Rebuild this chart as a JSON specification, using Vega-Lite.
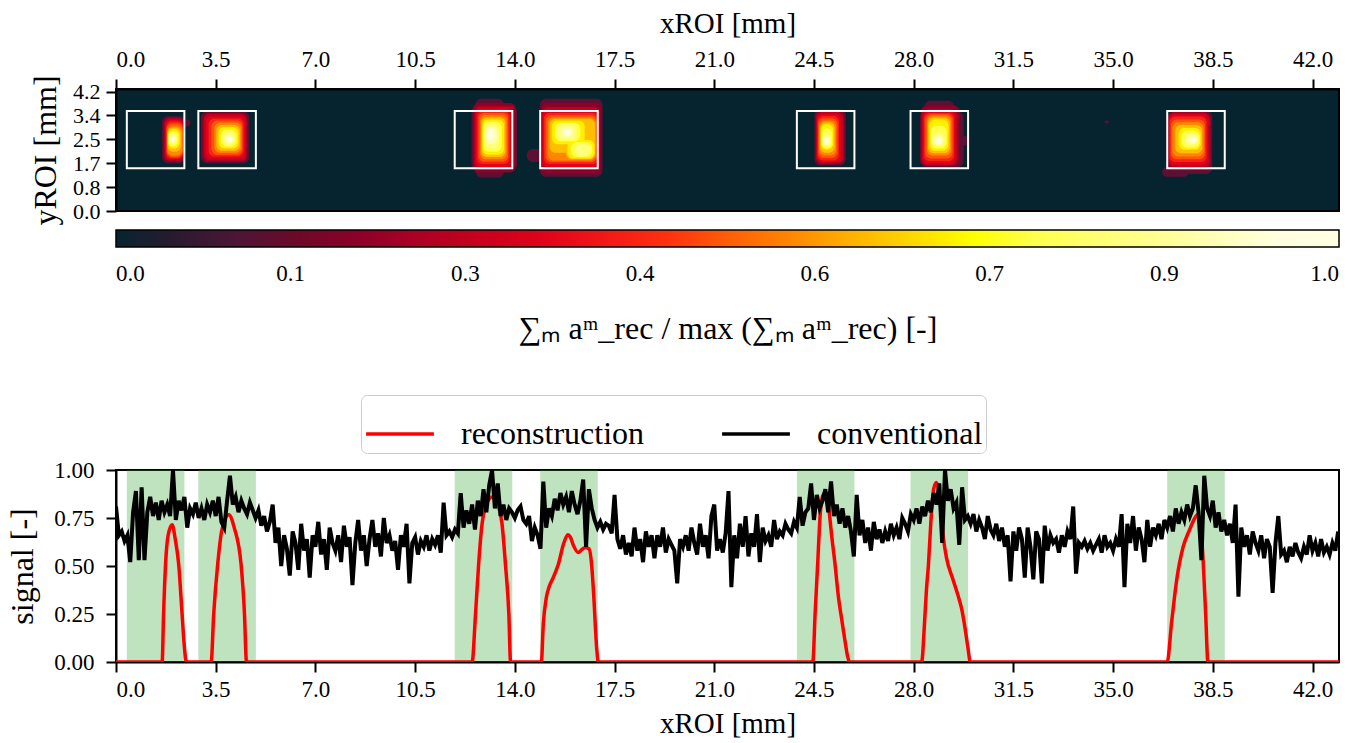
{
 "$schema": "https://vega.github.io/schema/vega-lite/v6.json",
 "padding": {"left": 5, "top": 8, "right": 10, "bottom": 4},
 "background": "white",
 "spacing": 47,
 "resolve": {"scale": {"color": "independent"}, "legend": {"color": "independent"}},
 "config": {
  "font": "Liberation Serif",
  "view": {"stroke": "black", "strokeWidth": 2},
  "axis": {"grid": false, "domainColor": "black", "domainWidth": 2, "tickColor": "black", "tickWidth": 2, "tickSize": 10, "labelFontSize": 23, "labelColor": "black", "labelFont": "Liberation Serif", "titleFont": "Liberation Serif", "titleFontSize": 29, "titleFontWeight": "normal", "titleColor": "black", "labelPadding": 6, "labelOverlap": false},
  "legend": {"labelFont": "Liberation Serif", "titleFont": "Liberation Serif", "labelColor": "black", "titleColor": "black", "labelLimit": 0, "titleLimit": 0}
 },
 "datasets": {
  "blobs": [
   {"x":1.62,"x2":2.42,"y":1.68,"y2":3.33,"v":0.12},{"x":2.3,"x2":2.62,"y":2.98,"y2":3.22,"v":0.12},
   {"x":2.98,"x2":4.68,"y":1.68,"y2":3.5,"v":0.12},
   {"x":12.62,"x2":13.62,"y":1.18,"y2":3.95,"v":0.12},{"x":12.48,"x2":14.08,"y":1.45,"y2":3.7,"v":0.12},
   {"x":14.88,"x2":17.08,"y":1.2,"y2":3.95,"v":0.12},{"x":14.42,"x2":14.95,"y":1.72,"y2":2.18,"v":0.12},
   {"x":24.52,"x2":25.62,"y":1.6,"y2":3.58,"v":0.12},
   {"x":28.38,"x2":29.42,"y":3.4,"y2":3.88,"v":0.12},{"x":28.22,"x2":29.75,"y":1.55,"y2":3.5,"v":0.12},{"x":29.6,"x2":29.92,"y":2.3,"y2":2.65,"v":0.12},
   {"x":36.72,"x2":37.65,"y":1.2,"y2":1.55,"v":0.12},{"x":36.92,"x2":38.48,"y":1.3,"y2":3.52,"v":0.12},
   {"x":34.7,"x2":34.86,"y":3.09,"y2":3.17,"v":0.12},
   {"x":1.66,"x2":2.4,"y":1.72,"y2":3.3,"v":0.2},
   {"x":3.03,"x2":4.63,"y":1.72,"y2":3.46,"v":0.2},
   {"x":12.53,"x2":14.03,"y":1.35,"y2":3.8,"v":0.2},
   {"x":14.92,"x2":17.03,"y":1.3,"y2":3.8,"v":0.2},
   {"x":24.55,"x2":25.57,"y":1.64,"y2":3.53,"v":0.2},
   {"x":28.25,"x2":29.62,"y":1.58,"y2":3.7,"v":0.2},
   {"x":36.93,"x2":38.43,"y":1.42,"y2":3.49,"v":0.2},
   {"x":1.7,"x2":2.38,"y":1.78,"y2":3.26,"v":0.28},
   {"x":3.08,"x2":4.58,"y":1.78,"y2":3.42,"v":0.28},
   {"x":12.58,"x2":13.98,"y":1.45,"y2":3.68,"v":0.28},
   {"x":14.95,"x2":16.98,"y":1.45,"y2":3.65,"v":0.28},
   {"x":24.58,"x2":25.52,"y":1.68,"y2":3.48,"v":0.28},
   {"x":28.28,"x2":29.52,"y":1.62,"y2":3.58,"v":0.28},
   {"x":36.95,"x2":38.38,"y":1.55,"y2":3.46,"v":0.28},
   {"x":1.73,"x2":2.37,"y":1.82,"y2":3.2,"v":0.35},
   {"x":3.16,"x2":4.53,"y":1.85,"y2":3.33,"v":0.35},
   {"x":12.63,"x2":13.9,"y":1.55,"y2":3.6,"v":0.35},
   {"x":14.98,"x2":16.95,"y":1.55,"y2":3.55,"v":0.35},
   {"x":24.6,"x2":25.45,"y":1.73,"y2":3.41,"v":0.35},
   {"x":28.32,"x2":29.47,"y":1.68,"y2":3.51,"v":0.35},
   {"x":36.96,"x2":38.33,"y":1.63,"y2":3.39,"v":0.35},
   {"x":1.76,"x2":2.36,"y":1.85,"y2":3.15,"v":0.42},
   {"x":3.25,"x2":4.48,"y":1.92,"y2":3.25,"v":0.42},
   {"x":12.68,"x2":13.82,"y":1.65,"y2":3.52,"v":0.42},
   {"x":15.02,"x2":16.92,"y":1.65,"y2":3.45,"v":0.42},
   {"x":24.63,"x2":25.38,"y":1.78,"y2":3.34,"v":0.42},
   {"x":28.36,"x2":29.42,"y":1.75,"y2":3.45,"v":0.42},
   {"x":36.98,"x2":38.28,"y":1.72,"y2":3.32,"v":0.42},
   {"x":1.78,"x2":2.35,"y":1.9,"y2":3.08,"v":0.49},
   {"x":3.35,"x2":4.44,"y":1.98,"y2":3.18,"v":0.49},
   {"x":12.73,"x2":13.77,"y":1.73,"y2":3.45,"v":0.49},
   {"x":15.08,"x2":16.88,"y":1.72,"y2":3.37,"v":0.49},
   {"x":24.65,"x2":25.33,"y":1.86,"y2":3.26,"v":0.49},
   {"x":28.41,"x2":29.37,"y":1.85,"y2":3.4,"v":0.49},
   {"x":37.03,"x2":38.23,"y":1.82,"y2":3.22,"v":0.49},
   {"x":1.79,"x2":2.33,"y":1.95,"y2":3.0,"v":0.55},
   {"x":3.45,"x2":4.4,"y":2.05,"y2":3.1,"v":0.55},
   {"x":12.78,"x2":13.72,"y":1.82,"y2":3.38,"v":0.55},
   {"x":15.15,"x2":16.85,"y":1.78,"y2":3.3,"v":0.55},
   {"x":24.68,"x2":25.28,"y":1.95,"y2":3.18,"v":0.55},
   {"x":28.46,"x2":29.32,"y":1.95,"y2":3.36,"v":0.55},
   {"x":37.08,"x2":38.18,"y":1.92,"y2":3.12,"v":0.55},
   {"x":1.8,"x2":2.29,"y":2.08,"y2":2.94,"v":0.62},
   {"x":3.52,"x2":4.35,"y":2.12,"y2":3.02,"v":0.62},
   {"x":12.82,"x2":13.67,"y":1.9,"y2":3.3,"v":0.62},
   {"x":15.22,"x2":16.82,"y":2.05,"y2":3.24,"v":0.62},{"x":15.8,"x2":16.82,"y":1.82,"y2":2.6,"v":0.62},
   {"x":24.71,"x2":25.23,"y":2.05,"y2":3.12,"v":0.62},
   {"x":28.5,"x2":29.27,"y":2.03,"y2":3.29,"v":0.62},
   {"x":37.18,"x2":38.13,"y":2.03,"y2":3.02,"v":0.62},
   {"x":1.82,"x2":2.24,"y":2.2,"y2":2.88,"v":0.68},
   {"x":3.6,"x2":4.3,"y":2.2,"y2":2.95,"v":0.68},
   {"x":12.86,"x2":13.62,"y":1.98,"y2":3.22,"v":0.68},
   {"x":15.3,"x2":16.45,"y":2.35,"y2":3.18,"v":0.68},{"x":15.85,"x2":16.8,"y":1.85,"y2":2.5,"v":0.68},
   {"x":24.74,"x2":25.18,"y":2.15,"y2":3.06,"v":0.68},
   {"x":28.55,"x2":29.22,"y":2.12,"y2":3.22,"v":0.68},
   {"x":37.3,"x2":38.08,"y":2.15,"y2":2.92,"v":0.68},
   {"x":1.84,"x2":2.19,"y":2.28,"y2":2.8,"v":0.75},
   {"x":3.68,"x2":4.24,"y":2.26,"y2":2.86,"v":0.75},
   {"x":12.9,"x2":13.54,"y":2.08,"y2":3.14,"v":0.75},
   {"x":15.42,"x2":16.3,"y":2.44,"y2":3.1,"v":0.75},{"x":15.98,"x2":16.72,"y":1.9,"y2":2.42,"v":0.75},
   {"x":24.77,"x2":25.14,"y":2.2,"y2":2.9,"v":0.75},
   {"x":28.6,"x2":29.16,"y":2.2,"y2":3.0,"v":0.75},
   {"x":37.4,"x2":38.04,"y":2.22,"y2":2.82,"v":0.75},
   {"x":1.86,"x2":2.14,"y":2.35,"y2":2.72,"v":0.82},
   {"x":3.75,"x2":4.18,"y":2.32,"y2":2.78,"v":0.82},
   {"x":12.95,"x2":13.45,"y":2.2,"y2":3.05,"v":0.82},
   {"x":15.5,"x2":16.15,"y":2.5,"y2":3.05,"v":0.82},{"x":16.1,"x2":16.65,"y":1.95,"y2":2.35,"v":0.82},
   {"x":24.8,"x2":25.1,"y":2.28,"y2":2.72,"v":0.82},
   {"x":28.65,"x2":29.1,"y":2.28,"y2":2.75,"v":0.82},
   {"x":37.5,"x2":38.0,"y":2.3,"y2":2.72,"v":0.82},
   {"x":1.89,"x2":2.1,"y":2.4,"y2":2.66,"v":0.89},
   {"x":3.82,"x2":4.13,"y":2.37,"y2":2.7,"v":0.89},
   {"x":12.99,"x2":13.37,"y":2.35,"y2":2.97,"v":0.89},
   {"x":15.62,"x2":16.05,"y":2.58,"y2":2.95,"v":0.89},
   {"x":24.83,"x2":25.06,"y":2.33,"y2":2.62,"v":0.89},
   {"x":28.7,"x2":29.04,"y":2.33,"y2":2.65,"v":0.89},
   {"x":37.6,"x2":37.96,"y":2.36,"y2":2.65,"v":0.89},
   {"x":1.92,"x2":2.06,"y":2.45,"y2":2.6,"v":0.95},
   {"x":3.88,"x2":4.08,"y":2.42,"y2":2.62,"v":0.95},
   {"x":13.02,"x2":13.28,"y":2.5,"y2":2.9,"v":0.95},
   {"x":15.72,"x2":15.98,"y":2.65,"y2":2.88,"v":0.95},
   {"x":24.86,"x2":25.02,"y":2.38,"y2":2.52,"v":0.95},
   {"x":28.75,"x2":28.98,"y":2.38,"y2":2.55,"v":0.95},
   {"x":37.7,"x2":37.92,"y":2.42,"y2":2.58,"v":0.95}
  ],
  "boxes": [
   {"x0":0.38,"x1":2.40,"y0":1.5,"y1":3.52},
   {"x0":2.89,"x1":4.91,"y0":1.5,"y1":3.52},
   {"x0":11.89,"x1":13.91,"y0":1.5,"y1":3.52},
   {"x0":14.89,"x1":16.91,"y0":1.5,"y1":3.52},
   {"x0":23.9,"x1":25.92,"y0":1.5,"y1":3.52},
   {"x0":27.89,"x1":29.91,"y0":1.5,"y1":3.52},
   {"x0":36.9,"x1":38.92,"y0":1.5,"y1":3.52}
  ],
  "rec": [
   {"x":0,"s":0},{"x":1.62,"s":0},{"x":1.67,"s":0.25},{"x":1.74,"s":0.51},{"x":1.83,"s":0.66},{"x":1.97,"s":0.715},{"x":2.08,"s":0.64},{"x":2.2,"s":0.51},{"x":2.32,"s":0.25},{"x":2.4,"s":0.08},{"x":2.47,"s":0},
   {"x":3.34,"s":0},{"x":3.43,"s":0.25},{"x":3.57,"s":0.51},{"x":3.72,"s":0.69},{"x":3.96,"s":0.767},{"x":4.15,"s":0.7},{"x":4.39,"s":0.51},{"x":4.51,"s":0.25},{"x":4.58,"s":0},
   {"x":12.5,"s":0},{"x":12.62,"s":0.25},{"x":12.73,"s":0.51},{"x":12.85,"s":0.72},{"x":13.0,"s":0.82},{"x":13.2,"s":0.86},{"x":13.4,"s":0.82},{"x":13.55,"s":0.72},{"x":13.67,"s":0.51},{"x":13.79,"s":0.25},{"x":13.85,"s":0},
   {"x":14.93,"s":0},{"x":15.0,"s":0.2},{"x":15.1,"s":0.33},{"x":15.2,"s":0.39},{"x":15.35,"s":0.44},{"x":15.53,"s":0.51},{"x":15.71,"s":0.615},{"x":15.86,"s":0.663},{"x":15.95,"s":0.65},{"x":16.06,"s":0.606},{"x":16.23,"s":0.57},{"x":16.35,"s":0.585},{"x":16.47,"s":0.597},{"x":16.6,"s":0.59},{"x":16.7,"s":0.5},{"x":16.76,"s":0.37},{"x":16.88,"s":0.06},{"x":16.93,"s":0},
   {"x":24.46,"s":0},{"x":24.54,"s":0.25},{"x":24.63,"s":0.51},{"x":24.72,"s":0.77},{"x":24.82,"s":0.87},{"x":24.92,"s":0.88},{"x":25.02,"s":0.8},{"x":25.12,"s":0.66},{"x":25.24,"s":0.51},{"x":25.35,"s":0.35},{"x":25.48,"s":0.216},{"x":25.6,"s":0.1},{"x":25.68,"s":0.03},{"x":25.75,"s":0},
   {"x":28.28,"s":0},{"x":28.38,"s":0.2},{"x":28.45,"s":0.38},{"x":28.52,"s":0.51},{"x":28.6,"s":0.72},{"x":28.7,"s":0.9},{"x":28.8,"s":0.935},{"x":28.88,"s":0.89},{"x":28.97,"s":0.77},{"x":29.05,"s":0.64},{"x":29.15,"s":0.545},{"x":29.38,"s":0.43},{"x":29.55,"s":0.35},{"x":29.68,"s":0.28},{"x":29.8,"s":0.18},{"x":29.9,"s":0.08},{"x":29.99,"s":0},
   {"x":36.9,"s":0},{"x":37.05,"s":0.2},{"x":37.23,"s":0.425},{"x":37.46,"s":0.6},{"x":37.69,"s":0.69},{"x":37.87,"s":0.75},{"x":37.98,"s":0.77},{"x":38.08,"s":0.7},{"x":38.16,"s":0.53},{"x":38.25,"s":0.25},{"x":38.33,"s":0},
   {"x":42.93,"s":0}
  ],
  "conv": [
   {"x":0,"s":0.81},{"x":0.1,"s":0.66},{"x":0.2,"s":0.68},{"x":0.3,"s":0.63},{"x":0.4,"s":0.66},{"x":0.5,"s":0.52},{"x":0.6,"s":0.78},{"x":0.7,"s":0.89},{"x":0.8,"s":0.53},{"x":0.9,"s":0.91},
   {"x":1,"s":0.53},{"x":1.1,"s":0.78},{"x":1.2,"s":0.86},{"x":1.3,"s":0.76},{"x":1.4,"s":0.83},{"x":1.5,"s":0.74},{"x":1.6,"s":0.84},{"x":1.7,"s":0.78},{"x":1.8,"s":0.82},{"x":1.9,"s":0.76},
   {"x":2,"s":1.0},{"x":2.1,"s":0.74},{"x":2.2,"s":0.84},{"x":2.3,"s":0.79},{"x":2.4,"s":0.86},{"x":2.5,"s":0.70},{"x":2.6,"s":0.80},{"x":2.7,"s":0.77},{"x":2.8,"s":0.83},{"x":2.9,"s":0.75},
   {"x":3,"s":0.80},{"x":3.1,"s":0.74},{"x":3.2,"s":0.82},{"x":3.3,"s":0.78},{"x":3.4,"s":0.84},{"x":3.5,"s":0.76},{"x":3.6,"s":0.86},{"x":3.7,"s":0.73},{"x":3.8,"s":0.70},{"x":3.9,"s":0.84},
   {"x":4,"s":0.97},{"x":4.1,"s":0.82},{"x":4.2,"s":0.86},{"x":4.3,"s":0.78},{"x":4.4,"s":0.84},{"x":4.5,"s":0.80},{"x":4.6,"s":0.77},{"x":4.7,"s":0.83},{"x":4.8,"s":0.79},{"x":4.9,"s":0.75},
   {"x":5,"s":0.79},{"x":5.1,"s":0.71},{"x":5.2,"s":0.76},{"x":5.3,"s":0.68},{"x":5.4,"s":0.73},{"x":5.5,"s":0.82},{"x":5.6,"s":0.62},{"x":5.7,"s":0.70},{"x":5.8,"s":0.50},{"x":5.9,"s":0.66},
   {"x":6,"s":0.59},{"x":6.1,"s":0.45},{"x":6.2,"s":0.68},{"x":6.3,"s":0.62},{"x":6.4,"s":0.48},{"x":6.5,"s":0.72},{"x":6.6,"s":0.58},{"x":6.7,"s":0.64},{"x":6.8,"s":0.44},{"x":6.9,"s":0.66},
   {"x":7,"s":0.60},{"x":7.1,"s":0.73},{"x":7.2,"s":0.56},{"x":7.3,"s":0.64},{"x":7.4,"s":0.48},{"x":7.5,"s":0.70},{"x":7.6,"s":0.62},{"x":7.7,"s":0.58},{"x":7.8,"s":0.66},{"x":7.9,"s":0.52},
   {"x":8,"s":0.71},{"x":8.1,"s":0.60},{"x":8.2,"s":0.65},{"x":8.3,"s":0.40},{"x":8.4,"s":0.62},{"x":8.5,"s":0.74},{"x":8.6,"s":0.58},{"x":8.7,"s":0.66},{"x":8.8,"s":0.50},{"x":8.9,"s":0.64},
   {"x":9,"s":0.74},{"x":9.1,"s":0.60},{"x":9.2,"s":0.67},{"x":9.3,"s":0.55},{"x":9.4,"s":0.75},{"x":9.5,"s":0.62},{"x":9.6,"s":0.66},{"x":9.7,"s":0.58},{"x":9.8,"s":0.63},{"x":9.9,"s":0.48},
   {"x":10,"s":0.66},{"x":10.1,"s":0.60},{"x":10.2,"s":0.72},{"x":10.3,"s":0.41},{"x":10.4,"s":0.62},{"x":10.5,"s":0.65},{"x":10.6,"s":0.56},{"x":10.7,"s":0.63},{"x":10.8,"s":0.60},{"x":10.9,"s":0.66},
   {"x":11,"s":0.58},{"x":11.1,"s":0.64},{"x":11.2,"s":0.61},{"x":11.3,"s":0.66},{"x":11.4,"s":0.57},{"x":11.5,"s":0.83},{"x":11.6,"s":0.66},{"x":11.7,"s":0.68},{"x":11.8,"s":0.65},{"x":11.9,"s":0.69},
   {"x":12,"s":0.67},{"x":12.1,"s":0.88},{"x":12.2,"s":0.70},{"x":12.3,"s":0.79},{"x":12.4,"s":0.72},{"x":12.5,"s":0.82},{"x":12.6,"s":0.69},{"x":12.7,"s":0.84},{"x":12.8,"s":0.76},{"x":12.9,"s":0.90},
   {"x":13,"s":0.78},{"x":13.1,"s":0.92},{"x":13.2,"s":1.0},{"x":13.3,"s":0.80},{"x":13.4,"s":0.93},{"x":13.5,"s":0.76},{"x":13.6,"s":0.82},{"x":13.7,"s":0.74},{"x":13.8,"s":0.80},{"x":13.9,"s":0.78},
   {"x":14,"s":0.75},{"x":14.1,"s":0.79},{"x":14.2,"s":0.81},{"x":14.3,"s":0.74},{"x":14.4,"s":0.72},{"x":14.5,"s":0.76},{"x":14.6,"s":0.63},{"x":14.7,"s":0.70},{"x":14.8,"s":0.66},{"x":14.9,"s":0.59},
   {"x":15,"s":0.94},{"x":15.1,"s":0.70},{"x":15.2,"s":0.80},{"x":15.3,"s":0.76},{"x":15.4,"s":0.85},{"x":15.5,"s":0.79},{"x":15.6,"s":0.88},{"x":15.7,"s":0.82},{"x":15.8,"s":0.86},{"x":15.9,"s":0.78},
   {"x":16,"s":0.89},{"x":16.1,"s":0.82},{"x":16.2,"s":0.77},{"x":16.3,"s":0.84},{"x":16.4,"s":0.95},{"x":16.5,"s":0.60},{"x":16.6,"s":0.90},{"x":16.7,"s":0.80},{"x":16.8,"s":0.74},{"x":16.9,"s":0.70},
   {"x":17,"s":0.73},{"x":17.1,"s":0.69},{"x":17.2,"s":0.72},{"x":17.3,"s":0.71},{"x":17.4,"s":0.67},{"x":17.5,"s":0.87},{"x":17.6,"s":0.64},{"x":17.7,"s":0.59},{"x":17.8,"s":0.66},{"x":17.9,"s":0.56},
   {"x":18,"s":0.62},{"x":18.1,"s":0.55},{"x":18.2,"s":0.70},{"x":18.3,"s":0.58},{"x":18.4,"s":0.64},{"x":18.5,"s":0.52},{"x":18.6,"s":0.68},{"x":18.7,"s":0.60},{"x":18.8,"s":0.66},{"x":18.9,"s":0.54},
   {"x":19,"s":0.66},{"x":19.1,"s":0.60},{"x":19.2,"s":0.70},{"x":19.3,"s":0.57},{"x":19.4,"s":0.64},{"x":19.5,"s":0.61},{"x":19.6,"s":0.58},{"x":19.7,"s":0.41},{"x":19.8,"s":0.64},{"x":19.9,"s":0.60},
   {"x":20,"s":0.66},{"x":20.1,"s":0.58},{"x":20.2,"s":0.70},{"x":20.3,"s":0.62},{"x":20.4,"s":0.56},{"x":20.5,"s":0.72},{"x":20.6,"s":0.60},{"x":20.7,"s":0.66},{"x":20.8,"s":0.54},{"x":20.9,"s":0.76},
   {"x":21,"s":0.82},{"x":21.1,"s":0.58},{"x":21.2,"s":0.64},{"x":21.3,"s":0.57},{"x":21.4,"s":0.67},{"x":21.5,"s":0.89},{"x":21.6,"s":0.39},{"x":21.7,"s":0.66},{"x":21.8,"s":0.54},{"x":21.9,"s":0.72},
   {"x":22,"s":0.60},{"x":22.1,"s":0.76},{"x":22.2,"s":0.55},{"x":22.3,"s":0.67},{"x":22.4,"s":0.60},{"x":22.5,"s":0.77},{"x":22.6,"s":0.52},{"x":22.7,"s":0.70},{"x":22.8,"s":0.63},{"x":22.9,"s":0.66},
   {"x":23,"s":0.60},{"x":23.1,"s":0.74},{"x":23.2,"s":0.64},{"x":23.3,"s":0.68},{"x":23.4,"s":0.66},{"x":23.5,"s":0.72},{"x":23.6,"s":0.69},{"x":23.7,"s":0.67},{"x":23.8,"s":0.73},{"x":23.9,"s":0.70},
   {"x":24,"s":0.86},{"x":24.1,"s":0.71},{"x":24.2,"s":0.78},{"x":24.3,"s":0.80},{"x":24.4,"s":0.93},{"x":24.5,"s":0.74},{"x":24.6,"s":0.87},{"x":24.7,"s":0.80},{"x":24.8,"s":0.84},{"x":24.9,"s":0.90},
   {"x":25,"s":0.78},{"x":25.1,"s":0.94},{"x":25.2,"s":0.76},{"x":25.3,"s":0.82},{"x":25.4,"s":0.72},{"x":25.5,"s":0.80},{"x":25.6,"s":0.70},{"x":25.7,"s":0.76},{"x":25.8,"s":0.68},{"x":25.9,"s":0.55},
   {"x":26,"s":0.87},{"x":26.1,"s":0.66},{"x":26.2,"s":0.74},{"x":26.3,"s":0.62},{"x":26.4,"s":0.70},{"x":26.5,"s":0.58},{"x":26.6,"s":0.73},{"x":26.7,"s":0.64},{"x":26.8,"s":0.69},{"x":26.9,"s":0.62},
   {"x":27,"s":0.68},{"x":27.1,"s":0.63},{"x":27.2,"s":0.72},{"x":27.3,"s":0.66},{"x":27.4,"s":0.70},{"x":27.5,"s":0.64},{"x":27.6,"s":0.75},{"x":27.7,"s":0.72},{"x":27.8,"s":0.68},{"x":27.9,"s":0.77},
   {"x":28,"s":0.74},{"x":28.1,"s":0.80},{"x":28.2,"s":0.72},{"x":28.3,"s":0.81},{"x":28.4,"s":0.76},{"x":28.5,"s":0.84},{"x":28.6,"s":0.78},{"x":28.7,"s":0.88},{"x":28.8,"s":0.82},{"x":28.9,"s":0.93},
   {"x":29,"s":0.62},{"x":29.1,"s":1.0},{"x":29.2,"s":0.84},{"x":29.3,"s":0.90},{"x":29.4,"s":0.80},{"x":29.5,"s":0.83},{"x":29.6,"s":0.61},{"x":29.7,"s":0.91},{"x":29.8,"s":0.74},{"x":29.9,"s":0.76},
   {"x":30,"s":0.72},{"x":30.1,"s":0.77},{"x":30.2,"s":0.68},{"x":30.3,"s":0.74},{"x":30.4,"s":0.70},{"x":30.5,"s":0.64},{"x":30.6,"s":0.76},{"x":30.7,"s":0.69},{"x":30.8,"s":0.66},{"x":30.9,"s":0.72},
   {"x":31,"s":0.63},{"x":31.1,"s":0.70},{"x":31.2,"s":0.60},{"x":31.3,"s":0.66},{"x":31.4,"s":0.42},{"x":31.5,"s":0.68},{"x":31.6,"s":0.58},{"x":31.7,"s":0.70},{"x":31.8,"s":0.64},{"x":31.9,"s":0.44},
   {"x":32,"s":0.70},{"x":32.1,"s":0.60},{"x":32.2,"s":0.43},{"x":32.3,"s":0.68},{"x":32.4,"s":0.64},{"x":32.5,"s":0.41},{"x":32.6,"s":0.71},{"x":32.7,"s":0.58},{"x":32.8,"s":0.66},{"x":32.9,"s":0.62},
   {"x":33,"s":0.64},{"x":33.1,"s":0.57},{"x":33.2,"s":0.66},{"x":33.3,"s":0.60},{"x":33.4,"s":0.68},{"x":33.5,"s":0.64},{"x":33.6,"s":0.81},{"x":33.7,"s":0.46},{"x":33.8,"s":0.62},{"x":33.9,"s":0.60},
   {"x":34,"s":0.63},{"x":34.1,"s":0.59},{"x":34.2,"s":0.62},{"x":34.3,"s":0.58},{"x":34.4,"s":0.61},{"x":34.5,"s":0.64},{"x":34.6,"s":0.57},{"x":34.7,"s":0.66},{"x":34.8,"s":0.60},{"x":34.9,"s":0.62},
   {"x":35,"s":0.58},{"x":35.1,"s":0.64},{"x":35.2,"s":0.60},{"x":35.3,"s":0.77},{"x":35.4,"s":0.39},{"x":35.5,"s":0.72},{"x":35.6,"s":0.62},{"x":35.7,"s":0.76},{"x":35.8,"s":0.58},{"x":35.9,"s":0.70},
   {"x":36,"s":0.64},{"x":36.1,"s":0.52},{"x":36.2,"s":0.74},{"x":36.3,"s":0.60},{"x":36.4,"s":0.70},{"x":36.5,"s":0.66},{"x":36.6,"s":0.72},{"x":36.7,"s":0.64},{"x":36.8,"s":0.74},{"x":36.9,"s":0.70},
   {"x":37,"s":0.76},{"x":37.1,"s":0.68},{"x":37.2,"s":0.80},{"x":37.3,"s":0.72},{"x":37.4,"s":0.78},{"x":37.5,"s":0.74},{"x":37.6,"s":0.82},{"x":37.7,"s":0.76},{"x":37.8,"s":0.80},{"x":37.9,"s":0.92},
   {"x":38,"s":0.78},{"x":38.1,"s":0.53},{"x":38.2,"s":0.97},{"x":38.3,"s":0.80},{"x":38.4,"s":0.76},{"x":38.5,"s":0.84},{"x":38.6,"s":0.70},{"x":38.7,"s":0.78},{"x":38.8,"s":0.68},{"x":38.9,"s":0.74},
   {"x":39,"s":0.66},{"x":39.1,"s":0.72},{"x":39.2,"s":0.62},{"x":39.3,"s":0.82},{"x":39.4,"s":0.34},{"x":39.5,"s":0.70},{"x":39.6,"s":0.60},{"x":39.7,"s":0.66},{"x":39.8,"s":0.56},{"x":39.9,"s":0.68},
   {"x":40,"s":0.62},{"x":40.1,"s":0.58},{"x":40.2,"s":0.66},{"x":40.3,"s":0.54},{"x":40.4,"s":0.64},{"x":40.5,"s":0.60},{"x":40.6,"s":0.36},{"x":40.7,"s":0.62},{"x":40.8,"s":0.76},{"x":40.9,"s":0.56},
   {"x":41,"s":0.58},{"x":41.1,"s":0.52},{"x":41.2,"s":0.60},{"x":41.3,"s":0.55},{"x":41.4,"s":0.62},{"x":41.5,"s":0.57},{"x":41.6,"s":0.54},{"x":41.7,"s":0.60},{"x":41.8,"s":0.56},{"x":41.9,"s":0.66},
   {"x":42,"s":0.58},{"x":42.1,"s":0.62},{"x":42.2,"s":0.55},{"x":42.3,"s":0.64},{"x":42.4,"s":0.57},{"x":42.5,"s":0.60},{"x":42.6,"s":0.56},{"x":42.7,"s":0.62},{"x":42.8,"s":0.58},{"x":42.9,"s":0.68}
  ]
 },
 "vconcat": [
  {
   "width": 1223,
   "height": 122,
   "view": {"fill": "#062430", "stroke": "black", "strokeWidth": 2},
   "layer": [
    {
     "data": {"name": "blobs"},
     "mark": {"type": "rect", "cornerRadius": 6},
     "encoding": {
      "x": {"field": "x", "type": "quantitative", "scale": {"domain": [0, 42.93], "nice": false, "zero": false},
            "axis": {"orient": "top", "values": [0, 3.5, 7, 10.5, 14, 17.5, 21, 24.5, 28, 31.5, 35, 38.5, 42], "format": ".1f", "title": "xROI [mm]", "titlePadding": 10, "labelPadding": 8, "labelOverlap": false}},
      "x2": {"field": "x2"},
      "y": {"field": "y", "type": "quantitative", "scale": {"domain": [0, 4.29], "nice": false, "zero": false},
            "axis": {"values": [0, 0.84, 1.68, 2.52, 3.36, 4.2], "format": ".1f", "title": "yROI [mm]", "titleFontSize": 32, "titlePadding": 10, "labelOverlap": false, "labelFontSize": 22, "labelBaseline": "middle"}},
      "y2": {"field": "y2"},
      "color": {"field": "v", "type": "quantitative",
        "scale": {"domain": [0, 0.05, 0.15, 0.28, 0.38, 0.45, 0.52, 0.6, 0.7, 0.85, 0.95, 1.0],
                  "range": ["#062430", "#2b1a30", "#6e0828", "#c0001e", "#ee0818", "#ff3010", "#ff6a08", "#ffb000", "#ffff00", "#ffff90", "#ffffe0", "#ffffff"]},
        "legend": {"orient": "bottom", "direction": "horizontal", "gradientLength": 1223, "gradientThickness": 17,
                   "gradientStrokeColor": "black", "gradientStrokeWidth": 1.5,
                   "values": [0, 0.142857, 0.285714, 0.428571, 0.571429, 0.714286, 0.857143, 1], "format": ".1f",
                   "labelFontSize": 23, "labelAlign": "center", "labelOffset": 16, "labelOverlap": false,
                   "title": "∑ₘ aᵐ_rec / max (∑ₘ aᵐ_rec) [-]", "titleOrient": "bottom", "titleAnchor": "middle",
                   "titleFontSize": 32, "titleFontWeight": "normal", "titlePadding": 28, "offset": 19}}
     }
    },
    {
     "data": {"name": "boxes"},
     "mark": {"type": "rect", "fillOpacity": 0, "stroke": "white", "strokeWidth": 2},
     "encoding": {
      "x": {"field": "x0", "type": "quantitative",
            "axis": {"orient": "top", "values": [0, 3.5, 7, 10.5, 14, 17.5, 21, 24.5, 28, 31.5, 35, 38.5, 42], "format": ".1f", "title": "xROI [mm]", "titlePadding": 10, "labelPadding": 8, "labelOverlap": false}},
      "x2": {"field": "x1"},
      "y": {"field": "y0", "type": "quantitative",
            "axis": {"values": [0, 0.84, 1.68, 2.52, 3.36, 4.2], "format": ".1f", "title": "yROI [mm]", "titleFontSize": 32, "titlePadding": 10, "labelOverlap": false, "labelFontSize": 22, "labelBaseline": "middle"}},
      "y2": {"field": "y1"}
     }
    }
   ]
  },
  {
   "width": 1223,
   "height": 192,
   "layer": [
    {
     "data": {"name": "boxes"},
     "mark": {"type": "rect", "color": "#2ca02c", "opacity": 0.3},
     "encoding": {
      "x": {"field": "x0", "type": "quantitative", "scale": {"domain": [0, 42.93], "nice": false, "zero": false},
            "axis": {"values": [0, 3.5, 7, 10.5, 14, 17.5, 21, 24.5, 28, 31.5, 35, 38.5, 42], "format": ".1f", "title": "xROI [mm]", "titlePadding": 8, "labelOverlap": false}},
      "x2": {"field": "x1"}
     }
    },
    {
     "data": {"name": "rec"},
     "mark": {"type": "line", "strokeWidth": 3.5, "interpolate": "monotone", "clip": true},
     "encoding": {
      "x": {"field": "x", "type": "quantitative"},
      "y": {"field": "s", "type": "quantitative", "scale": {"domain": [0, 1], "nice": false},
            "axis": {"values": [0, 0.25, 0.5, 0.75, 1], "format": ".2f", "title": "signal [-]", "titleFontSize": 32, "titlePadding": 14, "labelPadding": 12, "labelOverlap": false}},
      "color": {"datum": "reconstruction", "scale": {"domain": ["reconstruction", "conventional"], "range": ["#ff0000", "#000000"]},
        "legend": {"orient": "none", "legendX": 245, "legendY": -75, "direction": "horizontal", "columns": 2, "title": null,
                   "symbolType": "stroke", "symbolSize": 4600, "symbolStrokeWidth": 3.5, "labelFontSize": 32, "labelOffset": 25, "labelLimit": 0,
                   "columnPadding": 70, "padding": 3, "strokeColor": "#cccccc", "fillColor": "white", "cornerRadius": 6}}
     }
    },
    {
     "data": {"name": "conv"},
     "mark": {"type": "line", "strokeWidth": 4, "clip": true},
     "encoding": {
      "x": {"field": "x", "type": "quantitative"},
      "y": {"field": "s", "type": "quantitative"},
      "color": {"datum": "conventional"}
     }
    }
   ]
  }
 ]
}
